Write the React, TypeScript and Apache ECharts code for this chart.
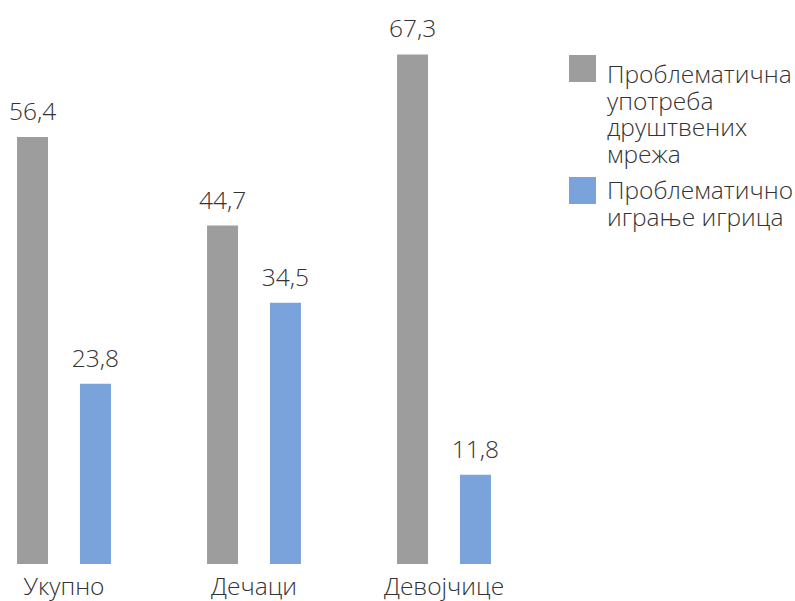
import React, { useEffect, useRef } from "react";
import * as echarts from "echarts";

const categories = ["Укупно", "Дечаци", "Девојчице"];
const socialMedia = [56.4, 44.7, 67.3];
const gaming = [23.8, 34.5, 11.8];
const seriesNames = [
  "Проблематична\nупотреба\nдруштвених\nмрежа",
  "Проблематично\nиграње игрица",
];

const FONT = "'Open Sans', sans-serif";
const TEXT = "#333333";
const GRAY = "#9d9d9d";
const BLUE = "#7ba3db";
const OFFSET = 31; // chart div starts 31px left of the page
const FS = 24.5;

export default function App() {
  const ref = useRef<HTMLDivElement>(null);
  useEffect(() => {
    if (!ref.current) return;
    const chart = echarts.init(ref.current, undefined, { renderer: "svg" });
    const label = {
      show: true,
      position: "top",
      distance: 14,
      color: TEXT,
      fontFamily: FONT,
      fontSize: FS,
      fontWeight: 300,
      formatter: (p: any) => String(p.value).replace(".", ","),
    };
    chart.setOption({
      animation: false,
      grid: { left: 0, width: 570, top: 34, bottom: 37 },
      xAxis: {
        type: "category",
        data: categories,
        axisLine: { show: false },
        axisTick: { show: false },
        axisLabel: {
          color: TEXT,
          fontFamily: FONT,
          fontSize: FS,
          fontWeight: 300,
          margin: 9,
        },
      },
      yAxis: {
        type: "value",
        min: 0,
        max: 70,
        show: false,
        splitLine: { show: false },
      },
      series: [
        {
          name: seriesNames[0],
          type: "bar",
          data: socialMedia,
          barWidth: 31,
          barGap: "103%",
          itemStyle: { color: GRAY },
          label,
        },
        {
          name: seriesNames[1],
          type: "bar",
          data: gaming,
          barWidth: 31,
          itemStyle: { color: BLUE },
          label,
        },
      ],
      graphic: [
        { type: "rect", left: 569 + OFFSET, top: 55, shape: { width: 27, height: 27 }, style: { fill: GRAY } },
        {
          type: "text",
          left: 607 + OFFSET,
          top: 60,
          style: {
            text: seriesNames[0],
            fill: TEXT,
            font: `300 ${FS}px ${FONT}`,
            lineHeight: 26.7,
          },
        },
        { type: "rect", left: 569 + OFFSET, top: 177, shape: { width: 27, height: 27 }, style: { fill: BLUE } },
        {
          type: "text",
          left: 607 + OFFSET,
          top: 176,
          style: {
            text: seriesNames[1],
            fill: TEXT,
            font: `300 ${FS}px ${FONT}`,
            lineHeight: 26.7,
          },
        },
      ],
    });
    return () => chart.dispose();
  }, []);
  return (
    <div
      ref={ref}
      style={{ width: 795 + OFFSET, height: 601, position: "absolute", left: -OFFSET, top: 0 }}
    />
  );
}
